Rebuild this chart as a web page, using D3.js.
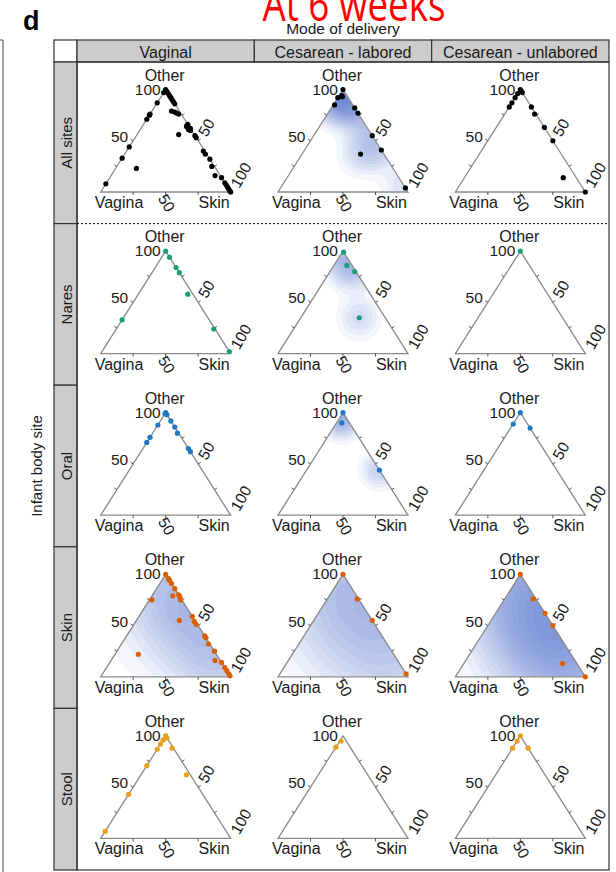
<!DOCTYPE html>
<html><head><meta charset="utf-8">
<script src="https://cdn.jsdelivr.net/npm/d3@7"></script>
<style>body{margin:0;background:#fff}svg{display:block}</style>
</head><body>
<svg id="c" width="616" height="872"></svg>
<script>
// ---------------- data ----------------
const modes = ["Vaginal", "Cesarean - labored", "Cesarean - unlabored"];
const sites = ["All sites", "Nares", "Oral", "Skin", "Stool"];
const siteColors = ["#000000", "#1b9e77", "#1f78c4", "#d95f02", "#e6a01a"];
const axisNames = ["Other", "Vagina", "Skin"];
const tickFractions = [25, 50, 75];
const title = "At 6 weeks";
const panelLetter = "d";
const colTitle = "Mode of delivery";
const rowTitle = "Infant body site";

// points as [Other, Vagina, Skin] in percent
const allSitesVaginal = [[100,0,0],[98,0,2],[97,3,0],[96,0,4],[94,0,6],[92,0,8],[90,0,10],[88,0,12],[86,0,14],
  [87,13,0],[76,24,0],[75,25,0],[71,29,0],[79,6,15],[78,4,18],[77,3,20],[76,2,22],
  [66,0,34],[65,1,34],[64,2,34],[63,1,36],[62,0,38],[61,2,37],[60,1,39],
  [56,12,32],[55,0,45],[53,0,47],[44,56,0],[33,67,0],[23,61,16],
  [40,1,59],[37,1,62],[32,0,68],[25,2,73],[16,4,80],[14,0,86],
  [9,0,91],[7,0,93],[5,0,95],[3,0,97],[1,0,99],[0,0,100],[8,92,0]];
const allSitesLabored = [[100,0,0],[94,4,2],[92,8,0],[93,4,3],[85,14,1],[82,0,18],[77,0,23],[55,0,45],[41,0,59],[37,18,45],[4,0,96]];
const allSitesUnlabored = [[100,0,0],[98,0,2],[97,0,3],[96,4,0],[92,8,0],[87,13,0],[83,17,0],[83,0,17],[76,1,23],[63,0,37],[50,0,50],[14,10,76],[0,0,100]];
const naresVaginal = [[100,0,0],[94,0,6],[84,0,16],[79,0,21],[58,4,38],[33,67,0],[24,1,75],[2,0,98]];
const naresLabored = [[99,0,1],[86,4,10],[80,1,19],[35,20,45]];
const naresUnlabored = [[100,0,0]];
const oralVaginal = [[100,0,0],[98,0,2],[99,1,0],[92,0,8],[86,0,14],[80,1,19],[65,0,35],[62,0,38],[88,12,0],[76,24,0],[71,29,0]];
const oralLabored = [[100,0,0],[90,6,4],[44,0,56]];
const oralUnlabored = [[100,0,0],[89,11,0],[85,0,15]];
const skinVaginal = [[100,0,0],[96,0,4],[94,0,6],[91,0,9],[86,0,14],[79,5,16],[80,0,20],[78,0,22],[75,1,24],[75,23,2],
  [55,12,33],[59,0,41],[54,1,45],[51,1,48],[40,0,60],[38,0,62],[32,1,67],[25,0,75],[16,4,80],[14,0,86],
  [9,0,91],[6,0,94],[3,0,97],[1,0,99],[22,60,18]];
const skinLabored = [[100,0,0],[76,1,23],[55,0,45],[3,0,97]];
const skinUnlabored = [[100,0,0],[76,2,22],[62,0,38],[50,0,50],[13,11,76],[0,0,100]];
const stoolVaginal = [[100,0,0],[98,0,2],[96,4,0],[92,8,0],[87,13,0],[88,1,11],[71,29,0],[43,57,0],[62,3,35],[7,93,0]];
const stoolLabored = [[95,4,1],[89,11,0]];
const stoolUnlabored = [[100,0,0],[95,5,0],[88,12,0],[88,0,12]];

const panelPoints = [
  [allSitesVaginal, allSitesLabored, allSitesUnlabored],
  [naresVaginal, naresLabored, naresUnlabored],
  [oralVaginal, oralLabored, oralUnlabored],
  [skinVaginal, skinLabored, skinUnlabored],
  [stoolVaginal, stoolLabored, stoolUnlabored]
];
// panels showing a density estimate: [site, mode, bandwidth]
const densityPanels = [["All sites","Cesarean - labored",12],["Nares","Cesarean - labored",11],["Oral","Cesarean - labored",9],
  ["Skin","Vaginal",30],["Skin","Cesarean - labored",44],["Skin","Cesarean - unlabored",40]];

// ---------------- layout ----------------
const FONT = "'Liberation Sans', Arial, Helvetica, sans-serif";
const plot = {left: 77, right: 609, top: 62, bottom: 870, headTop: 40, stripLeft: 54};
const colW = (plot.right - plot.left) / modes.length;
const rowH = (plot.bottom - plot.top) / sites.length;
const tri = {half: 65, apex: 27.5, base: 130};

const svg = d3.select("#c");

function txt(g, x, y, s, o = {}) {
  const t = g.append("text")
    .attr("transform", `translate(${x},${y}) rotate(${o.rotate || 0}) scale(${o.sx || 1},1)`)
    .attr("font-family", o.family || FONT)
    .attr("font-size", o.size || 16)
    .attr("text-anchor", o.anchor || "middle")
    .attr("fill", o.fill || "#1a1a1a")
    .text(s);
  if (o.weight) t.attr("font-weight", o.weight);
  if (o.baseline) t.attr("dominant-baseline", o.baseline);
  return t;
}

// partial frame of previous panel
svg.append("line").attr("x1", 3).attr("x2", 3).attr("y1", 40).attr("y2", 872).attr("stroke", "#444").attr("stroke-width", 1);
svg.append("line").attr("x1", 0).attr("x2", 3).attr("y1", 40).attr("y2", 40).attr("stroke", "#444").attr("stroke-width", 1);

// title (cut at top) and panel letter
txt(svg, 354, 21, title, {size: 46, fill: "#ff0000", sx: 0.8, family: "'Open Sans', 'Liberation Sans', sans-serif"});
txt(svg, 23, 30, panelLetter, {size: 27, anchor: "start", weight: "bold", fill: "#000"});
txt(svg, (plot.left + plot.right) / 2, 34, colTitle, {size: 15.5});
txt(svg, 36, (plot.top + plot.bottom) / 2, rowTitle, {size: 15, rotate: -90, baseline: "central"});

// header strips
svg.append("rect").attr("x", plot.stripLeft).attr("y", plot.headTop).attr("width", plot.left - plot.stripLeft)
  .attr("height", plot.top - plot.headTop).attr("fill", "#fff").attr("stroke", "#333").attr("stroke-width", 1.2);
modes.forEach((m, c) => {
  const x0 = plot.left + c * colW;
  svg.append("rect").attr("x", x0).attr("y", plot.headTop).attr("width", colW).attr("height", plot.top - plot.headTop)
    .attr("fill", "#cccccc").attr("stroke", "#333").attr("stroke-width", 1.2);
  txt(svg, x0 + colW / 2, (plot.headTop + plot.top) / 2 + 1, m, {size: 16, baseline: "central"});
});
// row strips
sites.forEach((s, r) => {
  const y0 = plot.top + r * rowH;
  svg.append("rect").attr("x", plot.stripLeft).attr("y", y0).attr("width", plot.left - plot.stripLeft).attr("height", rowH)
    .attr("fill", "#cccccc").attr("stroke", "#333").attr("stroke-width", 1.2);
  txt(svg, (plot.stripLeft + plot.left) / 2 + 1, y0 + rowH / 2, s, {size: 15, rotate: -90, baseline: "central"});
});
// plot frame
svg.append("rect").attr("x", plot.left).attr("y", plot.top).attr("width", plot.right - plot.left).attr("height", plot.bottom - plot.top)
  .attr("fill", "none").attr("stroke", "#333").attr("stroke-width", 1.2);
svg.append("line").attr("x1", plot.left).attr("x2", plot.right).attr("y1", plot.top + rowH).attr("y2", plot.top + rowH)
  .attr("stroke", "#000").attr("stroke-width", 1).attr("stroke-dasharray", "2,2");

// ---------------- panels ----------------
sites.forEach((site, r) => {
  modes.forEach((mode, c) => {
    const x0 = plot.left + c * colW, y0 = plot.top + r * rowH;
    const g = svg.append("g").attr("transform", `translate(${x0},${y0})`);
    const cx = colW / 2;
    const xs = d3.scaleLinear().domain([0, 100]).range([cx - tri.half, cx + tri.half]);
    const ys = d3.scaleLinear().domain([0, 100]).range([tri.base, tri.apex]);
    const pos = d => [xs(d[2] + d[0] / 2), ys(d[0])];
    const A = pos([100, 0, 0]), L = pos([0, 100, 0]), R = pos([0, 0, 100]);
    const triPath = d3.line()([A, R, L]) + "Z";
    const pts = panelPoints[r][c];

    const dp = densityPanels.find(d => d[0] === site && d[1] === mode);
    if (dp) {
      const id = `clip${r}${c}`;
      g.append("clipPath").attr("id", id).append("path").attr("d", triPath);
      const dens = d3.contourDensity().x(d => pos(d)[0]).y(d => pos(d)[1])
        .size([Math.ceil(colW), Math.ceil(rowH)]).bandwidth(dp[2]).thresholds(14)(pts);
      g.append("g").attr("clip-path", `url(#${id})`).selectAll("path").data(dens).join("path")
        .attr("d", d3.geoPath()).attr("fill", "#3d63c4").attr("fill-opacity", 0.06)
        .attr("stroke", "#3d63c4").attr("stroke-opacity", 0.05).attr("stroke-width", 0.6);
    }

    g.append("path").attr("d", triPath).attr("fill", "none").attr("stroke", "#8a8a8a").attr("stroke-width", 1.3);

    // ticks
    const centroid = [(A[0] + L[0] + R[0]) / 3, (A[1] + L[1] + R[1]) / 3];
    const edges = [[L, A], [A, R], [R, L]];
    edges.forEach(([p, q]) => {
      tickFractions.forEach(f => {
        const t = f / 100;
        const px = p[0] + (q[0] - p[0]) * t, py = p[1] + (q[1] - p[1]) * t;
        let nx = -(q[1] - p[1]), ny = q[0] - p[0];
        const len = Math.hypot(nx, ny); nx /= len; ny /= len;
        if ((px - centroid[0]) * nx + (py - centroid[1]) * ny < 0) { nx = -nx; ny = -ny; }
        g.append("line").attr("x1", px).attr("y1", py).attr("x2", px + nx * 3).attr("y2", py + ny * 3)
          .attr("stroke", "#555").attr("stroke-width", 1);
      });
    });
    const mid = (p, q) => [(p[0] + q[0]) / 2, (p[1] + q[1]) / 2];
    const ML = mid(L, A), MR = mid(A, R), MB = mid(L, R);
    txt(g, A[0] - 5, A[1] + 5, "100", {size: 15.5, anchor: "end"});
    txt(g, ML[0] - 5, ML[1] + 1, "50", {size: 15.5, anchor: "end"});
    txt(g, MR[0] + 8.5, MR[1] - 3, "50", {size: 15.5, anchor: "start", rotate: -60});
    txt(g, R[0] + 8.5, R[1] - 3, "100", {size: 15.5, anchor: "start", rotate: -60});
    txt(g, MB[0] + 1, MB[1] + 11, "50", {size: 15.5, rotate: 60, baseline: "central"});

    txt(g, A[0] - 1, A[1] - 9, axisNames[0], {size: 16});
    txt(g, L[0] - 6, L[1] + 16, axisNames[1], {size: 16, anchor: "start"});
    txt(g, R[0] - 1, R[1] + 16, axisNames[2], {size: 16, anchor: "end"});

    g.append("g").selectAll("circle").data(pts).join("circle")
      .attr("cx", d => pos(d)[0]).attr("cy", d => pos(d)[1]).attr("r", 2.6)
      .attr("fill", siteColors[r]);
  });
});
</script>
</body></html>
